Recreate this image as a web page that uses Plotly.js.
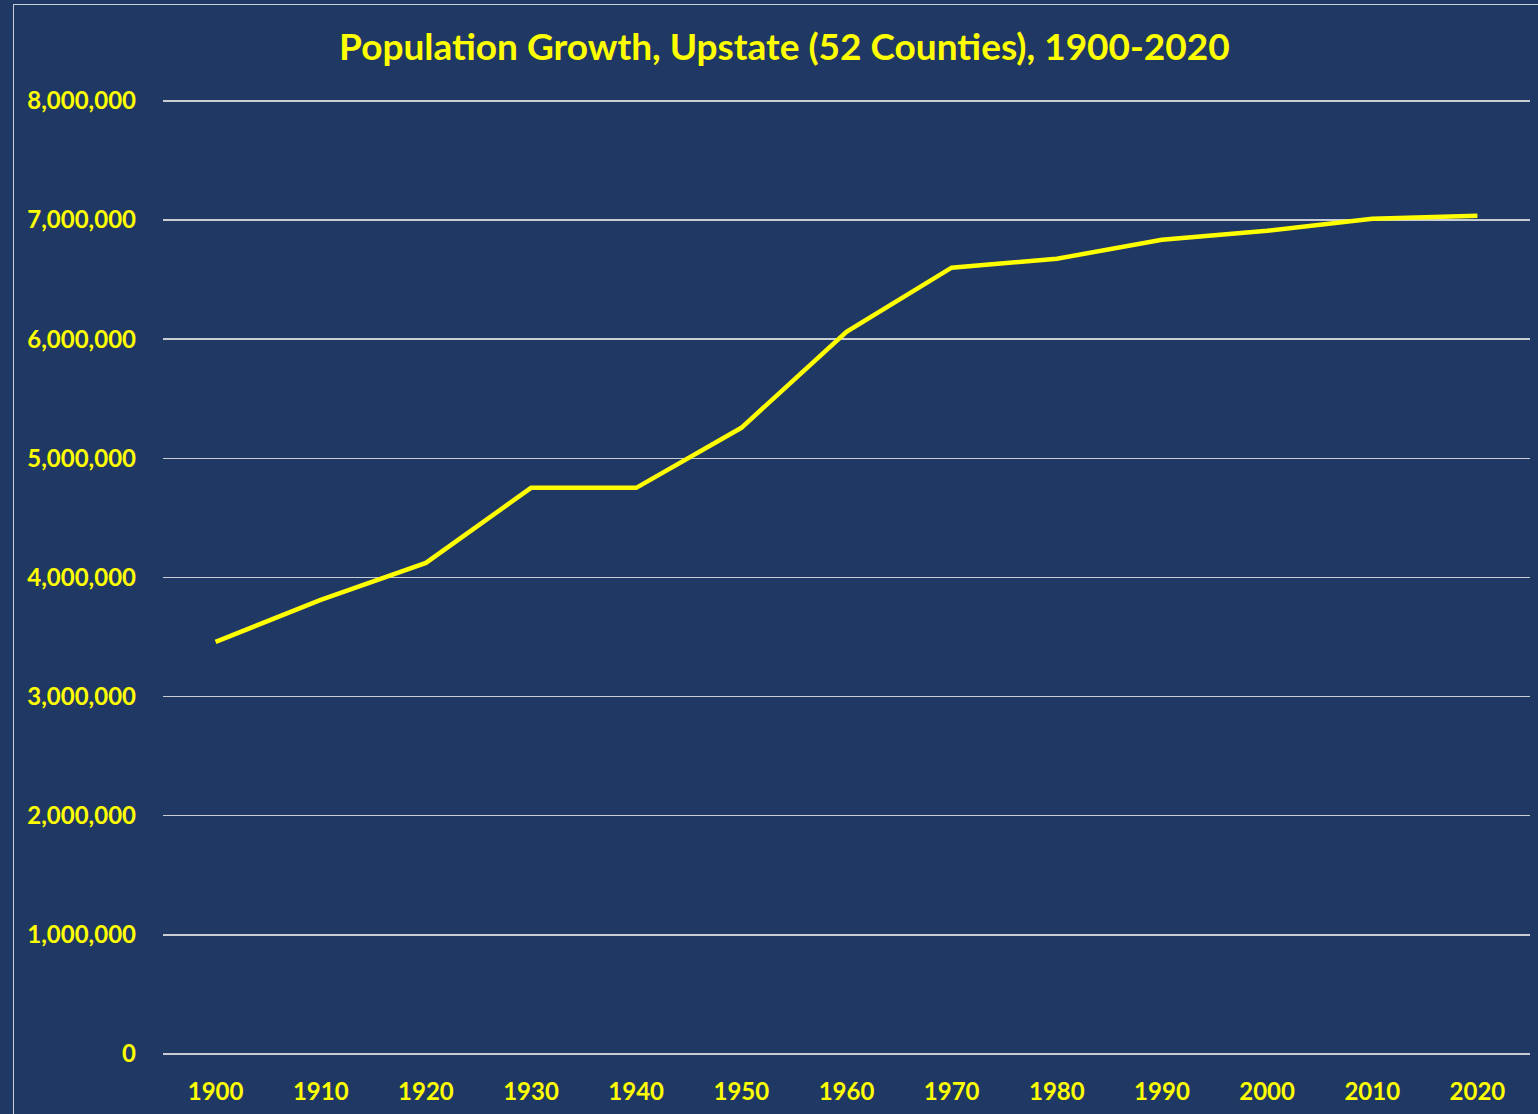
<!DOCTYPE html>
<html>
<head>
<meta charset="utf-8">
<script src="https://cdn.plot.ly/plotly-3.0.1.min.js"></script>
<style>
  html, body { margin: 0; padding: 0; background: #203864; overflow: hidden; }
  #chart { width: 1538px; height: 1114px; }
  #frame { position: absolute; left: 13px; top: 4px; width: 3000px; height: 3000px;
           border: 1px solid #c8ccd4; pointer-events: none; }
</style>
</head>
<body>
<div id="chart"></div>
<div id="frame"></div>
<script>
const years = ["1900","1910","1920","1930","1940","1950","1960","1970","1980","1990","2000","2010","2020"];
const population = [3459000, 3812000, 4122000, 4752000, 4752000, 5256000, 6062000, 6600000, 6675000, 6835000, 6910000, 7011000, 7036000];
const yTicks = [0,1000000,2000000,3000000,4000000,5000000,6000000,7000000,8000000];

const font = "Lato, 'Open Sans', sans-serif";
const yellow = "#FFFF00";
const grid = "#c9ccd3";

Plotly.newPlot("chart", [{
  type: "scatter",
  mode: "lines",
  x: years,
  y: population,
  line: { color: yellow, width: 4.5 },
  hoverinfo: "x+y"
}], {
  width: 1538, height: 1114,
  paper_bgcolor: "#203864",
  plot_bgcolor: "#203864",
  margin: { l: 163, r: 8, t: 99, b: 60 },
  showlegend: false,
  title: {
    text: "<b>Population Growth, Upstate (52 Counties), 1900-2020</b>",
    font: { family: font, size: 37, color: yellow },
    x: 0.51, xref: "container", xanchor: "center",
    y: 1 - 47/1114, yref: "container", yanchor: "middle"
  },
  xaxis: {
    type: "category",
    range: [-0.5, 12.5],
    showgrid: false, zeroline: false, showline: false,
    ticks: "",
    ticklabelstandoff: 21,
    tickfont: { family: font, size: 24, color: yellow, weight: "bold" }
  },
  yaxis: {
    range: [0, 8016000],
    tickvals: yTicks,
    tickformat: ",d",
    showgrid: true, gridcolor: grid, gridwidth: 1.5,
    zeroline: true, zerolinecolor: grid, zerolinewidth: 1.5,
    showline: false, ticks: "",
    ticklabelstandoff: 26,
    tickfont: { family: font, size: 24, color: yellow, weight: "bold" }
  }
}, { displayModeBar: false, staticPlot: true });
</script>
</body>
</html>
